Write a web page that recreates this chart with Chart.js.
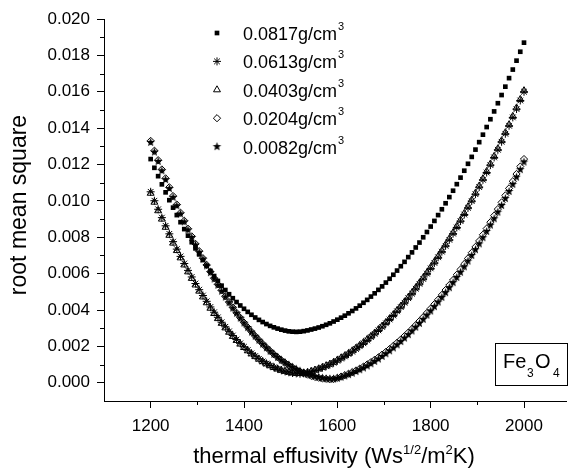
<!DOCTYPE html>
<html lang="en">
<head>
    <meta charset="UTF-8">
    <title>RMS vs thermal effusivity</title>
    <script src="https://cdn.jsdelivr.net/npm/chart.js"></script>
    <style>
        body { margin: 0; background: #fff; }
        #chartContainer { width: 571px; height: 471px; }
    </style>
</head>
<body>
    <div id="chartContainer">
        <canvas id="myChart"></canvas>
    </div>
    <script>
        // thermal effusivity values (x), shared by all series
        const effusivity = [
            1200,1208,1216,1224,1232,1240,1248,1256,1264,1272,
            1280,1288,1296,1304,1312,1320,1328,1336,1344,1352,
            1360,1368,1376,1384,1392,1400,1408,1416,1424,1432,
            1440,1448,1456,1464,1472,1480,1488,1496,1504,1512,
            1520,1528,1536,1544,1552,1560,1568,1576,1584,1592,
            1600,1608,1616,1624,1632,1640,1648,1656,1664,1672,
            1680,1688,1696,1704,1712,1720,1728,1736,1744,1752,
            1760,1768,1776,1784,1792,1800,1808,1816,1824,1832,
            1840,1848,1856,1864,1872,1880,1888,1896,1904,1912,
            1920,1928,1936,1944,1952,1960,1968,1976,1984,1992,
            2000
        ];

        // root mean square, one array per density
        const rms0817 = [
            0.01230,0.01182,0.01136,0.01091,0.01047,0.01004,0.00963,0.00922,0.00883,0.00845,
            0.00809,0.00773,0.00739,0.00706,0.00675,0.00644,0.00615,0.00587,0.00560,0.00534,
            0.00510,0.00487,0.00465,0.00444,0.00425,0.00407,0.00390,0.00374,0.00359,0.00346,
            0.00334,0.00323,0.00313,0.00305,0.00298,0.00292,0.00287,0.00283,0.00281,0.00280,
            0.00281,0.00284,0.00288,0.00293,0.00298,0.00304,0.00311,0.00319,0.00327,0.00337,
            0.00347,0.00358,0.00369,0.00382,0.00395,0.00409,0.00424,0.00440,0.00456,0.00474,
            0.00492,0.00511,0.00530,0.00551,0.00572,0.00594,0.00617,0.00641,0.00665,0.00691,
            0.00717,0.00744,0.00771,0.00800,0.00829,0.00859,0.00890,0.00922,0.00954,0.00987,
            0.01021,0.01056,0.01092,0.01128,0.01166,0.01204,0.01242,0.01282,0.01323,0.01364,
            0.01406,0.01449,0.01492,0.01537,0.01582,0.01628,0.01675,0.01722,0.01771,0.01820,
            0.01870
        ];
        const rms0613 = [
            0.01050,0.01001,0.00954,0.00908,0.00863,0.00819,0.00776,0.00735,0.00695,0.00656,
            0.00618,0.00582,0.00546,0.00512,0.00480,0.00448,0.00417,0.00388,0.00360,0.00333,
            0.00308,0.00283,0.00260,0.00238,0.00217,0.00198,0.00180,0.00162,0.00147,0.00132,
            0.00118,0.00106,0.00095,0.00085,0.00077,0.00069,0.00063,0.00058,0.00054,0.00052,
            0.00050,0.00052,0.00056,0.00062,0.00068,0.00075,0.00083,0.00091,0.00100,0.00110,
            0.00121,0.00133,0.00145,0.00158,0.00171,0.00186,0.00201,0.00217,0.00233,0.00251,
            0.00269,0.00288,0.00307,0.00327,0.00348,0.00370,0.00393,0.00416,0.00440,0.00465,
            0.00490,0.00517,0.00544,0.00571,0.00600,0.00629,0.00659,0.00690,0.00721,0.00753,
            0.00786,0.00820,0.00854,0.00889,0.00925,0.00962,0.00999,0.01037,0.01076,0.01116,
            0.01156,0.01197,0.01239,0.01281,0.01325,0.01369,0.01413,0.01459,0.01505,0.01552,
            0.01600
        ];
        const rms0403 = [
            0.01042,0.00993,0.00946,0.00900,0.00855,0.00811,0.00768,0.00727,0.00687,0.00648,
            0.00610,0.00574,0.00538,0.00504,0.00472,0.00440,0.00410,0.00381,0.00353,0.00327,
            0.00302,0.00278,0.00255,0.00233,0.00213,0.00194,0.00176,0.00159,0.00144,0.00130,
            0.00116,0.00104,0.00094,0.00084,0.00076,0.00069,0.00063,0.00058,0.00054,0.00052,
            0.00051,0.00053,0.00057,0.00063,0.00070,0.00077,0.00085,0.00094,0.00103,0.00113,
            0.00125,0.00137,0.00149,0.00162,0.00176,0.00191,0.00206,0.00222,0.00239,0.00256,
            0.00274,0.00293,0.00312,0.00332,0.00353,0.00375,0.00398,0.00421,0.00445,0.00470,
            0.00495,0.00522,0.00549,0.00577,0.00605,0.00635,0.00665,0.00695,0.00726,0.00759,
            0.00792,0.00825,0.00860,0.00895,0.00931,0.00968,0.01005,0.01043,0.01082,0.01122,
            0.01162,0.01203,0.01245,0.01287,0.01331,0.01375,0.01419,0.01465,0.01511,0.01558,
            0.01606
        ];
        const rms0204 = [
            0.01330,0.01276,0.01224,0.01173,0.01124,0.01075,0.01027,0.00980,0.00935,0.00891,
            0.00847,0.00805,0.00764,0.00724,0.00685,0.00648,0.00611,0.00575,0.00541,0.00508,
            0.00475,0.00444,0.00414,0.00385,0.00358,0.00331,0.00305,0.00281,0.00257,0.00235,
            0.00214,0.00194,0.00175,0.00157,0.00140,0.00124,0.00110,0.00096,0.00084,0.00072,
            0.00062,0.00053,0.00045,0.00038,0.00032,0.00028,0.00024,0.00022,0.00020,0.00021,
            0.00027,0.00034,0.00042,0.00050,0.00059,0.00068,0.00078,0.00089,0.00101,0.00114,
            0.00127,0.00140,0.00155,0.00170,0.00186,0.00203,0.00220,0.00238,0.00257,0.00276,
            0.00296,0.00317,0.00339,0.00361,0.00384,0.00408,0.00432,0.00457,0.00483,0.00510,
            0.00537,0.00565,0.00594,0.00623,0.00653,0.00684,0.00715,0.00747,0.00780,0.00814,
            0.00848,0.00883,0.00919,0.00955,0.00992,0.01030,0.01069,0.01108,0.01148,0.01189,
            0.01230
        ];
        const rms0082 = [
            0.01322,0.01269,0.01217,0.01166,0.01117,0.01068,0.01020,0.00974,0.00929,0.00885,
            0.00841,0.00799,0.00758,0.00718,0.00680,0.00643,0.00606,0.00571,0.00537,0.00504,
            0.00472,0.00441,0.00411,0.00383,0.00356,0.00329,0.00304,0.00279,0.00256,0.00234,
            0.00213,0.00193,0.00174,0.00156,0.00140,0.00125,0.00111,0.00098,0.00086,0.00075,
            0.00065,0.00056,0.00048,0.00041,0.00035,0.00030,0.00026,0.00023,0.00021,0.00021,
            0.00025,0.00031,0.00038,0.00045,0.00053,0.00062,0.00072,0.00082,0.00093,0.00105,
            0.00118,0.00131,0.00145,0.00160,0.00176,0.00192,0.00209,0.00227,0.00246,0.00265,
            0.00285,0.00306,0.00327,0.00349,0.00372,0.00395,0.00419,0.00444,0.00470,0.00496,
            0.00523,0.00551,0.00579,0.00608,0.00638,0.00669,0.00700,0.00732,0.00764,0.00798,
            0.00832,0.00867,0.00902,0.00938,0.00975,0.01013,0.01052,0.01091,0.01131,0.01172,
            0.01214
        ];

        const densityLabels = ['0.0817g/cm', '0.0613g/cm', '0.0403g/cm', '0.0204g/cm', '0.0082g/cm'];
        const xTickValues = [1200, 1400, 1600, 1800, 2000];
        const xMinorValues = [1300, 1500, 1700, 1900];
        const yTickValues = [0, 0.002, 0.004, 0.006, 0.008, 0.010, 0.012, 0.014, 0.016, 0.018, 0.020];
        const yMinorValues = [0.001, 0.003, 0.005, 0.007, 0.009, 0.011, 0.013, 0.015, 0.017, 0.019];

        const FONT = '"Liberation Sans", Arial, sans-serif';

        // filled five point star used as point style
        function makeStar(r) {
            const c = document.createElement('canvas');
            c.width = c.height = 2 * r + 2;
            const g = c.getContext('2d');
            g.beginPath();
            for (let k = 0; k < 10; k++) {
                const rad = k % 2 ? r * 0.42 : r;
                const a = -Math.PI / 2 + k * Math.PI / 5;
                g.lineTo(r + 1 + rad * Math.cos(a), r + 1 + rad * Math.sin(a));
            }
            g.closePath();
            g.fillStyle = '#000';
            g.fill();
            return c;
        }
        const starImg = makeStar(4.5);

        function toPoints(ys) {
            return effusivity.map((x, i) => ({ x: x, y: ys[i] }));
        }

        const seriesStyles = [
            { pointStyle: 'rect', pointRadius: 3.3, backgroundColor: '#000', borderColor: '#000', borderWidth: 0 },
            { pointStyle: 'star', pointRadius: 4, backgroundColor: 'rgba(0,0,0,0)', borderColor: '#000', borderWidth: 1 },
            { pointStyle: 'triangle', pointRadius: 4, backgroundColor: 'rgba(0,0,0,0)', borderColor: '#000', borderWidth: 1 },
            { pointStyle: 'rectRot', pointRadius: 3.6, backgroundColor: 'rgba(0,0,0,0)', borderColor: '#000', borderWidth: 1 },
            { pointStyle: starImg, pointRadius: 4.5, backgroundColor: '#000', borderColor: '#000', borderWidth: 0 }
        ];
        const seriesData = [rms0817, rms0613, rms0403, rms0204, rms0082];

        const datasets = seriesData.map((ys, i) => Object.assign({
            label: densityLabels[i],
            data: toPoints(ys),
            showLine: false
        }, seriesStyles[i]));

        // minor ticks, axis titles, legend and the Fe3O4 box
        const extras = {
            id: 'extras',
            afterDraw(chart) {
                const ctx = chart.ctx;
                const xs = chart.scales.x, ys = chart.scales.y;
                ctx.save();
                ctx.strokeStyle = '#000';
                ctx.fillStyle = '#000';
                ctx.lineWidth = 1;

                xMinorValues.forEach(v => {
                    const px = Math.round(xs.getPixelForValue(v)) + 0.5;
                    ctx.beginPath();
                    ctx.moveTo(px, xs.top);
                    ctx.lineTo(px, xs.top + 4);
                    ctx.stroke();
                });
                yMinorValues.forEach(v => {
                    const py = Math.round(ys.getPixelForValue(v)) + 0.5;
                    ctx.beginPath();
                    ctx.moveTo(ys.right, py);
                    ctx.lineTo(ys.right - 4, py);
                    ctx.stroke();
                });

                // y title
                ctx.save();
                ctx.translate(26, 205);
                ctx.rotate(-Math.PI / 2);
                ctx.font = '23px ' + FONT;
                ctx.textAlign = 'center';
                ctx.textBaseline = 'alphabetic';
                ctx.fillText('root mean square', 0, 0);
                ctx.restore();

                // x title with superscripts
                const parts = [
                    ['thermal effusivity (Ws', 22, 0],
                    ['1/2', 13, -9],
                    ['/m', 22, 0],
                    ['2', 13, -9],
                    ['K)', 22, 0]
                ];
                let total = 0;
                parts.forEach(p => { ctx.font = p[1] + 'px ' + FONT; total += ctx.measureText(p[0]).width; });
                let tx = 334 - total / 2;
                ctx.textAlign = 'left';
                ctx.textBaseline = 'alphabetic';
                parts.forEach(p => {
                    ctx.font = p[1] + 'px ' + FONT;
                    ctx.fillText(p[0], tx, 463 + p[2]);
                    tx += ctx.measureText(p[0]).width;
                });

                // legend
                const helpers = Chart.helpers;
                densityLabels.forEach((lab, i) => {
                    const cy = 33 + i * 28.4;
                    const st = seriesStyles[i];
                    ctx.fillStyle = st.backgroundColor;
                    ctx.strokeStyle = st.borderColor;
                    ctx.lineWidth = st.borderWidth;
                    helpers.drawPoint(ctx, {
                        pointStyle: st.pointStyle, rotation: 0,
                        radius: st.pointRadius, borderWidth: st.borderWidth
                    }, 217, cy);
                    ctx.fillStyle = '#000';
                    ctx.font = '18px ' + FONT;
                    ctx.fillText(lab, 243, cy + 7);
                    const w = ctx.measureText(lab).width;
                    ctx.font = '11px ' + FONT;
                    ctx.fillText('3', 243 + w + 1, cy - 3);
                });

                // Fe3O4 box
                ctx.strokeStyle = '#000';
                ctx.lineWidth = 1;
                ctx.strokeRect(495.5, 343.5, 72, 42);
                ctx.fillStyle = '#000';
                ctx.font = '20px ' + FONT;
                ctx.fillText('Fe', 503, 368);
                ctx.font = '12px ' + FONT;
                ctx.fillText('3', 527, 377);
                ctx.font = '20px ' + FONT;
                ctx.fillText('O', 535, 368);
                ctx.font = '12px ' + FONT;
                ctx.fillText('4', 553, 377);

                ctx.restore();
            }
        };

        const ctx = document.getElementById('myChart').getContext('2d');
        new Chart(ctx, {
            type: 'scatter',
            data: { datasets: datasets },
            plugins: [extras],
            options: {
                responsive: true,
                maintainAspectRatio: false,
                animation: false,
                events: [],
                layout: { padding: { top: 19, right: 0, left: 0, bottom: 0 } },
                plugins: {
                    legend: { display: false },
                    tooltip: { enabled: false }
                },
                scales: {
                    x: {
                        type: 'linear',
                        min: 1100,
                        max: 2090,
                        afterBuildTicks: s => { s.ticks = xTickValues.map(v => ({ value: v })); },
                        afterFit: s => { s.height = 70; },
                        grid: { drawOnChartArea: false, drawTicks: true, tickLength: 7, color: '#000' },
                        border: { color: '#000', width: 1 },
                        ticks: {
                            color: '#000', font: { family: FONT, size: 17 }, padding: 8,
                            maxRotation: 0, autoSkip: false,
                            callback: v => String(v)
                        }
                    },
                    y: {
                        type: 'linear',
                        min: -0.001,
                        max: 0.020,
                        afterBuildTicks: s => { s.ticks = yTickValues.map(v => ({ value: v })); },
                        afterFit: s => { s.width = 104; },
                        grid: { drawOnChartArea: false, drawTicks: true, tickLength: 7, color: '#000' },
                        border: { color: '#000', width: 1 },
                        ticks: {
                            color: '#000', font: { family: FONT, size: 17 }, padding: 7,
                            callback: v => v.toFixed(3)
                        }
                    }
                }
            }
        });
    </script>
</body>
</html>
